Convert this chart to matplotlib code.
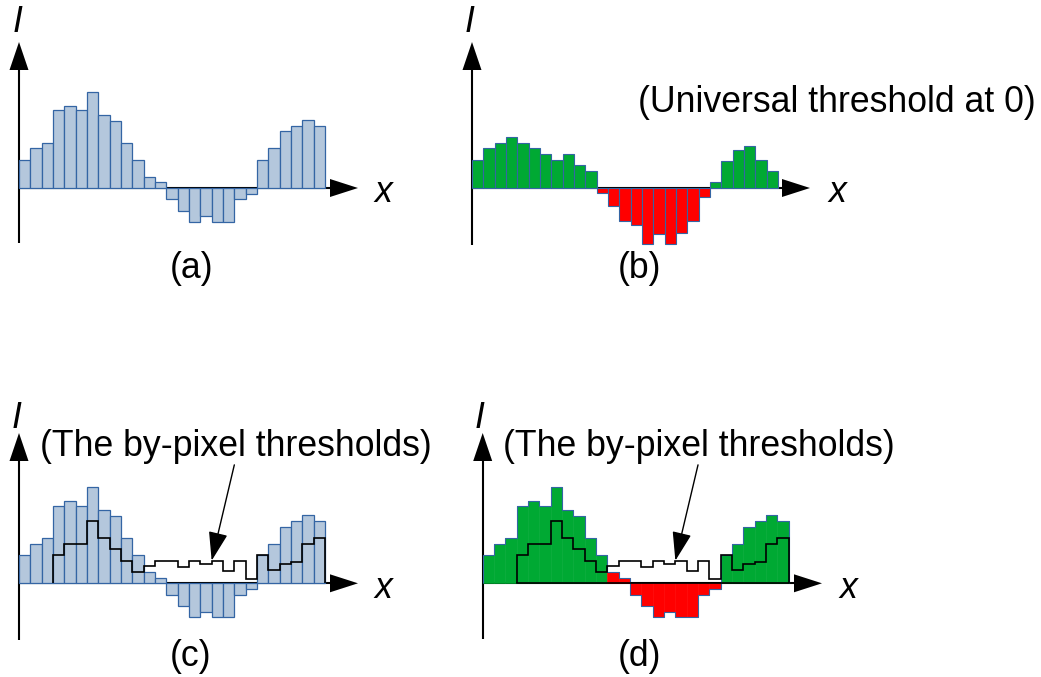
import numpy as np
import matplotlib
matplotlib.use('Agg')
import matplotlib.pyplot as plt
from matplotlib.patches import Polygon

# ---------------- data ----------------
intensity = [5, 7, 8, 13.7, 14.5, 13.7, 17, 12.9, 11.9, 8, 5, 2, 1,
             -2, -4, -6, -5, -6, -6, -2, -1, 5, 7, 10, 11, 12, 11]
universal_vals = [5, 7, 8, 9, 8, 7, 6, 5, 6, 4, 3, -0.9, -3.2, -5.9, -6.6,
                  -9.9, -8.2, -9.9, -7.9, -5.9, -1.6, 1, 4.7, 6.7, 7.4, 5, 3]
pixel_thresholds = [np.nan, np.nan, np.nan, 5, 7, 7, 11, 8, 6, 4, 2, 3, 4, 4,
                    2.8, 4, 3.4, 4, 2.2, 4, 0.8, 5, 2.4, 3.4, 3.8, 7, 8]
panel_labels = ['(a)', '(b)', '(c)', '(d)']
note_universal = '(Universal threshold at 0)'
note_pixel = '(The by-pixel thresholds)'

# ---------------- style ----------------
W, H = 1041, 677
SX, SY = 11.333, 5.667          # px per bar / px per value unit
BLUE_FILL, BLUE_EDGE = '#b4c7dc', '#3465a4'
GREEN, RED = '#00a933', '#ff0000'
FONT = 'Liberation Sans'
FS = 25.7

fig = plt.figure(figsize=(W / 100, H / 100), dpi=100)
fig.patch.set_facecolor('white')

ov = fig.add_axes([0, 0, 1, 1])
ov.set_xlim(0, W)
ov.set_ylim(H, 0)
ov.axis('off')


def axis_arrows(x0, base, ybot, ytip, xtip, xlab, ylab):
    ov.plot([x0, x0], [ybot, ytip + 26], color='black', lw=1.5, solid_capstyle='butt')
    ov.add_patch(Polygon([[x0 - 9.5, ytip + 28], [x0 + 9.5, ytip + 28], [x0, ytip]],
                         closed=True, color='black', lw=0))
    ov.plot([x0, xtip - 26], [base, base], color='black', lw=1.5, solid_capstyle='butt')
    ov.add_patch(Polygon([[xtip - 28, base - 9], [xtip - 28, base + 9], [xtip, base]],
                         closed=True, color='black', lw=0))
    ov.text(xlab[0], xlab[1], 'x', fontsize=FS, style='italic', family=FONT,
            ha='center', va='center')
    ov.text(ylab[0], ylab[1], 'I', fontsize=FS, style='italic', family=FONT,
            ha='center', va='center')


def panel(x0, base):
    ax = fig.add_axes([0, 0, 1, 1])
    ax.set_xlim(-x0 / SX, (W - x0) / SX)
    ax.set_ylim(-(H - base) / SY, base / SY)
    ax.axis('off')
    return ax


n = len(intensity)
edges = np.arange(n + 1)
centers = edges[:-1] + 0.5
vals = np.array(intensity)
thr = np.array(pixel_thresholds)

# axes arrows & labels
axis_arrows(19, 188, 243, 42, 358, (383, 193), (18, 22))
axis_arrows(472, 188, 245, 42, 810, (837, 193), (470, 22))
axis_arrows(19, 583.3, 640, 433, 358, (383, 589), (17, 418))
axis_arrows(482.7, 583.3, 639, 433, 822, (848, 589), (480, 418))

for (cx, cy), lab in zip([(192, 269), (640, 269), (191, 657), (639, 657)], panel_labels):
    ov.text(cx, cy, lab, fontsize=FS, family=FONT, ha='center', va='center')
ov.text(837, 102, note_universal, fontsize=FS, family=FONT, ha='center', va='center')
ov.text(236, 446, note_pixel, fontsize=FS, family=FONT, ha='center', va='center')
ov.text(699, 446, note_pixel, fontsize=FS, family=FONT, ha='center', va='center')

# (a)
axa = panel(19, 188)
axa.bar(centers, vals, width=1, color=BLUE_FILL, edgecolor=BLUE_EDGE, linewidth=0.9)

# (b)
axb = panel(472, 188)
ub = np.array(universal_vals)
axb.bar(centers, ub, width=1, color=[GREEN if v >= 0 else RED for v in ub],
        edgecolor=BLUE_EDGE, linewidth=0.8)

# (c)
axc = panel(19, 583.3)
axc.bar(centers, vals, width=1, color=BLUE_FILL, edgecolor=BLUE_EDGE, linewidth=0.9)
m = ~np.isnan(thr)
i0 = int(np.argmax(m))
axc.stairs(thr[i0:], edges[i0:], baseline=0, color='black', lw=1.2)
axc.annotate('', xy=(17, 4), xytext=(19.0, 20.9),
             arrowprops=dict(arrowstyle='-|>,head_length=1.8,head_width=0.6',
                             color='black', lw=1.0, shrinkA=0, shrinkB=0))

# (d)
axd = panel(482.7, 583.3)
cols = [GREEN if (np.isnan(t) or v >= t) else RED for v, t in zip(vals, thr)]
axd.bar(centers, vals, width=1, color=cols, edgecolor=cols, linewidth=0.4)
axd.stairs(vals, edges, baseline=0, color=BLUE_EDGE, lw=0.8)
axd.stairs(thr[i0:], edges[i0:], baseline=0, color='black', lw=1.2)
axd.plot([edges[i0], edges[-1]], [0, 0], color='black', lw=1.2)
axd.annotate('', xy=(17, 4), xytext=(19.0, 20.9),
             arrowprops=dict(arrowstyle='-|>,head_length=1.8,head_width=0.6',
                             color='black', lw=1.0, shrinkA=0, shrinkB=0))

fig.savefig('out.png', dpi=100, facecolor='white')
